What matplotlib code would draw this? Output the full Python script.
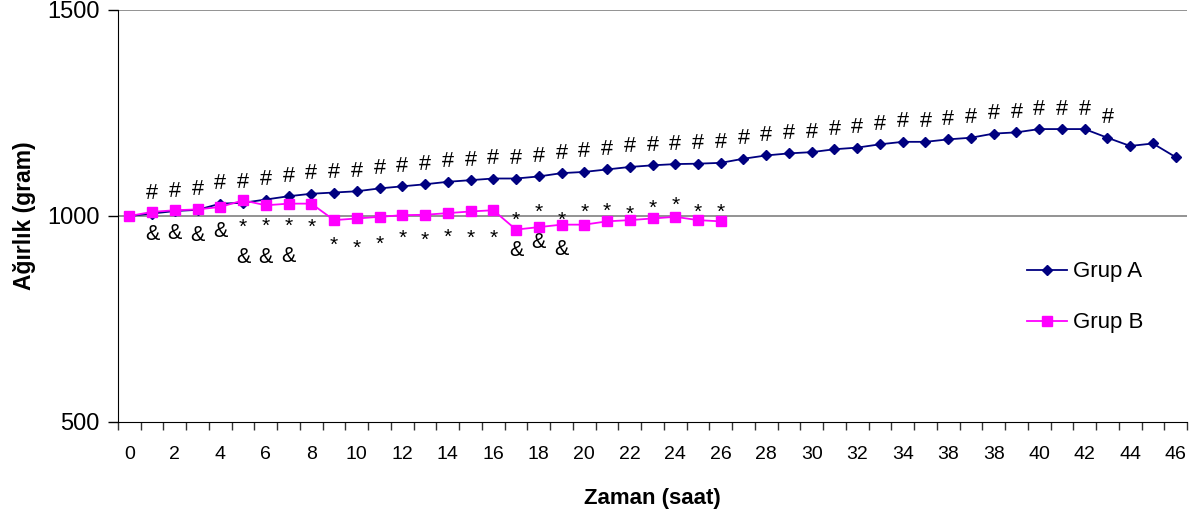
import numpy as np
import matplotlib.pyplot as plt

plt.rcParams['font.family'] = ['Liberation Sans', 'DejaVu Sans']

hours = list(range(47))
grup_a = [1000, 1006, 1012, 1015, 1030, 1032, 1040, 1048, 1054, 1057,
          1060, 1067, 1072, 1077, 1083, 1087, 1091, 1091, 1096, 1104,
          1107, 1113, 1119, 1123, 1126, 1127, 1129, 1139, 1147, 1152,
          1155, 1162, 1166, 1174, 1180, 1180, 1186, 1190, 1200, 1203,
          1211, 1211, 1211, 1190, 1170, 1176, 1143]
grup_b = [1000, 1010, 1014, 1016, 1022, 1038, 1026, 1030, 1030, 990,
          994, 998, 1002, 1003, 1007, 1011, 1014, 967, 973, 979,
          979, 987, 990, 994, 998, 990, 987]

# labels as printed on the original axis (36 is printed as 38 there)
tick_labels = ['0', '2', '4', '6', '8', '10', '12', '14', '16', '18', '20',
               '22', '24', '26', '28', '30', '32', '34', '38', '38', '40',
               '42', '44', '46']

# significance marks: index -> pixel offset below (+) / above (-) the point
hash_idx = list(range(1, 44))
amp_idx = [1, 2, 3, 4, 5, 6, 7, 17, 18, 19]
amp_off = [23, 23, 26, 25, 57, 52, 53, 21, 15, 25]
star_idx = list(range(5, 27))
star_off = [22, 16, 18, 19, 20, 25, 23, 18, 21, 19, 22, 23,
            -14, -20, -9, -17, -15, -11, -15, -16, -13, -14]

fig = plt.figure(figsize=(11.99, 5.16), dpi=100)
ax = fig.add_axes([118 / 1199, 94 / 516, 1069 / 1199, 412 / 516])

ax.axhline(1000, color='#808080', lw=1.2, zorder=1)
ax.axhline(1500, color='#808080', lw=1.2, zorder=1)

ax.plot(hours, grup_a, color='#000080', marker='D', ms=5.5, lw=1.3,
        label='Grup A', zorder=3)
ax.plot(hours[:len(grup_b)], grup_b, color='#FF00FF', marker='s', ms=6.5,
        lw=1.3, label='Grup B', zorder=4)

for i in hash_idx:
    ax.annotate('#', (hours[i], grup_a[i]), xytext=(0, 20),
                textcoords='offset pixels', ha='center', va='center',
                fontsize=15.5)
for i, off in zip(amp_idx, amp_off):
    ax.annotate('&', (hours[i], grup_b[i]), xytext=(0, -off),
                textcoords='offset pixels', ha='center', va='center',
                fontsize=15.5)
for i, off in zip(star_idx, star_off):
    ax.annotate('*', (hours[i], grup_b[i]), xytext=(0, -off - 5),
                textcoords='offset pixels', ha='center', va='center',
                fontsize=15)

ax.set_xlim(-0.5, 46.5)
ax.set_ylim(500, 1500)
ax.set_xticks(np.arange(-0.5, 47, 1))
ax.set_xticklabels([])
ax.set_xticks(hours[::2], minor=True)
ax.set_xticklabels(tick_labels, minor=True, fontsize=14)
ax.tick_params(axis='x', which='major', length=6, width=1, color='#333333')
ax.tick_params(axis='x', which='minor', length=0, pad=17)
ax.set_yticks([500, 1000, 1500])
ax.tick_params(axis='y', length=7, width=1, labelsize=17, pad=6)

ax.spines['top'].set_visible(False)
ax.spines['right'].set_visible(False)

ax.set_xlabel('Zaman (saat)', fontsize=16, fontweight='bold', labelpad=18)
ax.set_ylabel('Ağırlık (gram)', fontsize=16.5, fontweight='bold', labelpad=8)

ax.legend(loc='upper left', bbox_to_anchor=(0.85, 0.39), frameon=False,
          fontsize=16, handlelength=1.8, handletextpad=0.3,
          labelspacing=1.35, borderpad=0, borderaxespad=0)

fig.savefig('out.png', dpi=100)
